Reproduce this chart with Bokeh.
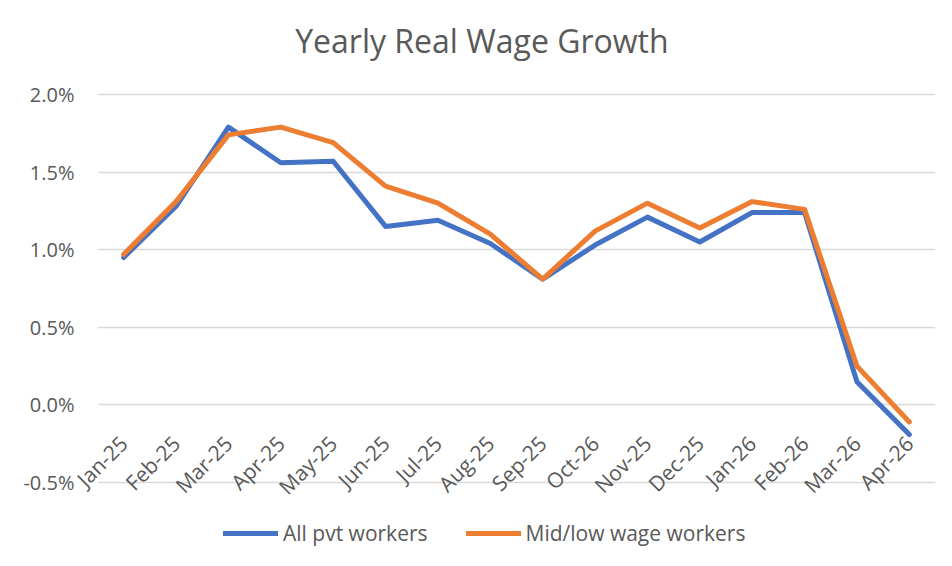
import math
from bokeh.plotting import figure
from bokeh.models import (FactorRange, Range1d, FixedTicker, PrintfTickFormatter,
                          Legend, LegendItem, Label)
from bokeh.embed import file_html
from bokeh.resources import INLINE

# ---- data ----
months = ["Jan-25", "Feb-25", "Mar-25", "Apr-25", "May-25", "Jun-25", "Jul-25", "Aug-25",
          "Sep-25", "Oct-26", "Nov-25", "Dec-25", "Jan-26", "Feb-26", "Mar-26", "Apr-26"]
all_pvt = [0.95, 1.28, 1.79, 1.56, 1.57, 1.15, 1.19, 1.04,
           0.81, 1.03, 1.21, 1.05, 1.24, 1.24, 0.15, -0.19]
mid_low = [0.97, 1.31, 1.74, 1.79, 1.69, 1.41, 1.30, 1.10,
           0.81, 1.12, 1.30, 1.14, 1.31, 1.26, 0.25, -0.11]
y_ticks = [-0.5, 0.0, 0.5, 1.0, 1.5, 2.0]
title_text = "Yearly Real Wage Growth"
series_names = ["All pvt workers", "Mid/low wage workers"]

FONT = "Open Sans"
GRAY = "#595959"

# frame spans almost the whole canvas vertically; gridlines only at the ticks
p = figure(width=944, height=558, x_range=FactorRange(*months), y_range=Range1d(-0.938, 2.5735),
           output_backend="svg", toolbar_location=None,
           min_border_left=97, min_border_right=9, min_border_top=5, min_border_bottom=8)
p.outline_line_color = None
p.background_fill_color = "white"
p.border_fill_color = "white"

l1 = p.line(months, all_pvt, line_color="#4472C4", line_width=5, line_join="round", line_cap="round")
l2 = p.line(months, mid_low, line_color="#ED7D31", line_width=5, line_join="round", line_cap="round")

# y axis
p.yaxis.ticker = FixedTicker(ticks=y_ticks)
p.yaxis.formatter = PrintfTickFormatter(format="%.1f%%")
p.yaxis.axis_line_color = None
p.yaxis.major_tick_line_color = None
p.yaxis.minor_tick_line_color = None
p.yaxis.major_tick_out = 0
p.yaxis.major_label_standoff = 23
p.yaxis.major_label_text_font = FONT
p.yaxis.major_label_text_font_size = "20px"
p.yaxis.major_label_text_color = GRAY

# x axis: labels pulled up to hang just below the zero line
p.xaxis.axis_line_color = None
p.xaxis.major_tick_line_color = None
p.xaxis.minor_tick_line_color = None
p.xaxis.major_tick_out = 0
p.xaxis.major_label_orientation = math.pi / 4
p.xaxis.major_label_standoff = -111
p.xaxis.major_label_text_font = FONT
p.xaxis.major_label_text_font_size = "21px"
p.xaxis.major_label_text_color = GRAY

p.xgrid.grid_line_color = None
p.ygrid.grid_line_color = "#d9d9d9"
p.ygrid.grid_line_width = 1.5

# title
p.add_layout(Label(x=7.34, y=2.348, text=title_text, text_align="center", text_baseline="middle",
                   text_font=FONT, text_font_size="32px", text_color=GRAY))

legend = Legend(items=[LegendItem(label=series_names[0], renderers=[l1]),
                       LegendItem(label=series_names[1], renderers=[l2])],
                location=(126, 3), orientation="horizontal",
                glyph_width=55, glyph_height=20, label_height=20, label_standoff=5, spacing=38,
                padding=0, margin=0, border_line_color=None, background_fill_alpha=0,
                label_text_font=FONT, label_text_font_size="21px", label_text_color=GRAY)
p.add_layout(legend)

open("out.html", "w").write(file_html(p, INLINE))
